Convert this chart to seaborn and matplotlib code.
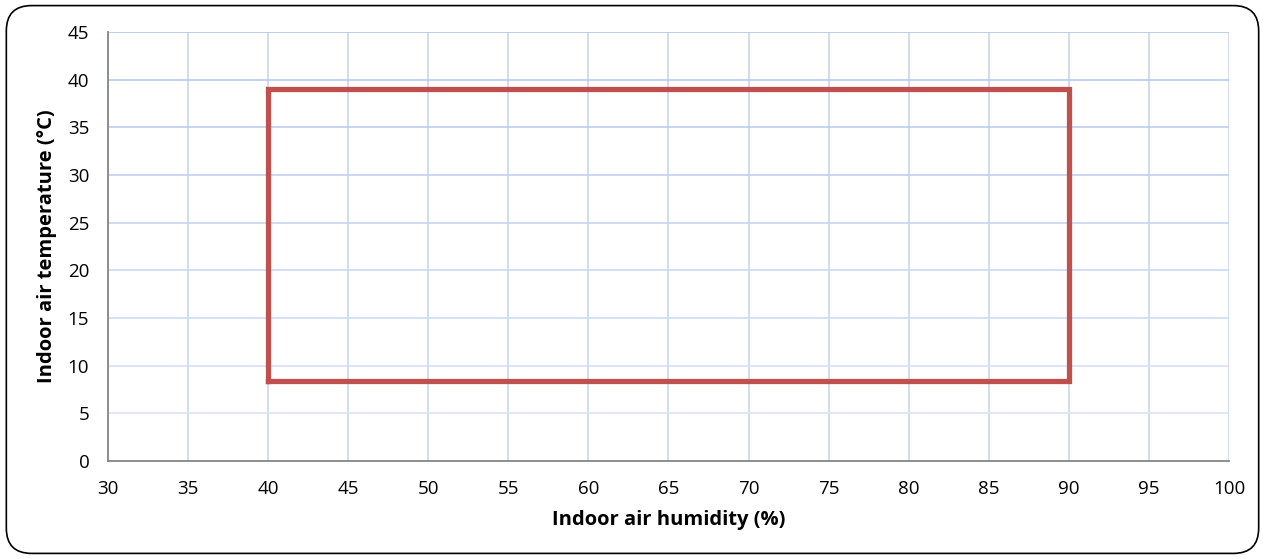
"""Indoor air operating envelope: humidity vs temperature."""

import matplotlib

matplotlib.use("Agg")

import matplotlib.pyplot as plt
import numpy as np
import pandas as pd
import seaborn as sns
from matplotlib.colors import to_rgb
from matplotlib.patches import FancyBboxPatch

# envelope corners, closed path
humidity = [40, 90, 90, 40, 40]
temperature = [8.4, 8.4, 39, 39, 8.4]

x_ticks = list(range(30, 101, 5))
y_ticks = list(range(0, 46, 5))

sns.set_theme(style="white")
plt.rcParams["font.family"] = ["Open Sans", "DejaVu Sans"]

df = pd.DataFrame({"humidity": humidity, "temperature": temperature})

fig = plt.figure(figsize=(12.65, 5.59), dpi=100)
ax = fig.add_axes([0.0854, 0.1753, 0.8861, 0.7675])

sns.lineplot(data=df, x="humidity", y="temperature", sort=False,
             estimator=None, color="#c0504d", linewidth=3.8, ax=ax, zorder=3)
ax.lines[-1].set_solid_joinstyle("miter")
ax.lines[-1].set_solid_capstyle("projecting")

ax.set_xlim(30, 100)
ax.set_ylim(0, 45)
ax.set_xticks(x_ticks)
ax.set_yticks(y_ticks)
ax.grid(True, color="#c8d5ef", linewidth=1.2)
ax.set_axisbelow(True)

# excel-ish fade: horizontal grid lighter towards the bottom
top_c = np.array(to_rgb("#b1c5eb"))
bot_c = np.array(to_rgb("#e0e7f5"))
for tick_val, gl in zip(ax.get_yticks(), ax.get_ygridlines()):
    f = tick_val / 45.0
    gl.set_color(bot_c + (top_c - bot_c) * f)

for side in ("top", "right"):
    ax.spines[side].set_visible(False)
for side in ("left", "bottom"):
    ax.spines[side].set_color("#868686")
    ax.spines[side].set_linewidth(1.3)

ax.tick_params(axis="both", direction="out", length=4.5, width=1,
               color="#868686", labelsize=13.5, labelcolor="black")
ax.tick_params(axis="x", pad=9)
ax.tick_params(axis="y", pad=9)

ax.set_xlabel("Indoor air humidity (%)", fontsize=14.5, fontweight="bold",
              labelpad=9, color="black")
ax.set_ylabel("Indoor air temperature (°C)", fontsize=14.5, fontweight="bold",
              labelpad=8, color="black")

border = FancyBboxPatch((0.005, 0.01), 0.99, 0.98,
                        boxstyle="round,pad=0,rounding_size=0.02",
                        transform=fig.transFigure, fill=False,
                        edgecolor="black", linewidth=1.2, mutation_aspect=2.26)
fig.patches.append(border)

fig.savefig("out.png", dpi=100)
